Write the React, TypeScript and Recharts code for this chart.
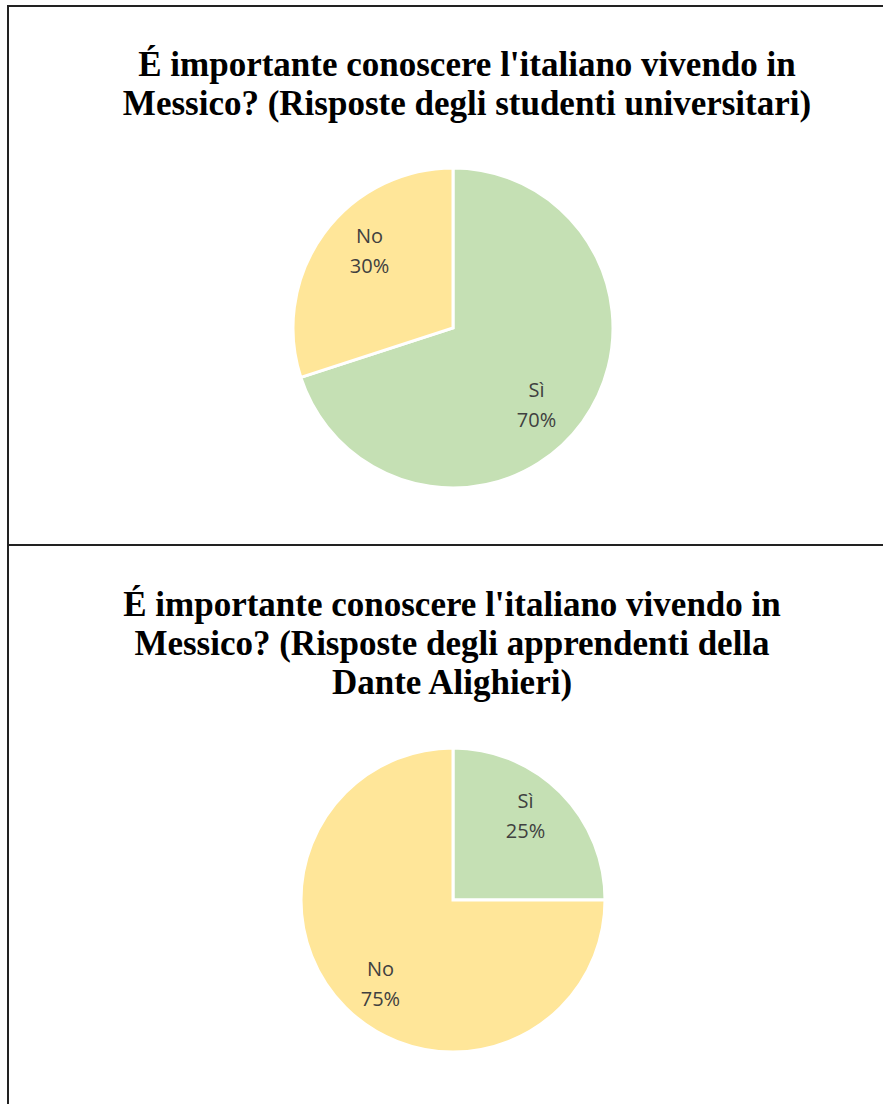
import React from 'react';
import { PieChart, Pie, Cell } from 'recharts';

const categoriesTop = ['Sì', 'No'];
const valuesTop = [70, 30];
const categoriesBottom = ['Sì', 'No'];
const valuesBottom = [25, 75];
const titleTop = ["É importante conoscere l'italiano vivendo in", 'Messico? (Risposte degli studenti universitari)'];
const titleBottom = ["É importante conoscere l'italiano vivendo in", 'Messico? (Risposte degli apprendenti della', 'Dante Alighieri)'];

const colorMap: Record<string, string> = { 'Sì': '#C5E0B4', 'No': '#FFE699' };

const topData = categoriesTop.map((c, i) => ({ name: c, value: valuesTop[i] }));
const bottomData = categoriesBottom.map((c, i) => ({ name: c, value: valuesBottom[i] }));

const RAD = Math.PI / 180;
const makeLabel = (fx: number, fy: number) => (props: any) => {
  const { cx, cy, midAngle, outerRadius, name, percent } = props;
  const x = cx + outerRadius * fx * Math.cos(-midAngle * RAD);
  const y = cy + outerRadius * fy * Math.sin(-midAngle * RAD);
  return (
    <text x={x} y={y} textAnchor="middle" fill="#404040" fontFamily="'Open Sans', sans-serif" fontSize={20}>
      <tspan x={x} dy={-8}>{name}</tspan>
      <tspan x={x} dy={30}>{`${Math.round(percent * 100)}%`}</tspan>
    </text>
  );
};

const titleStyle: React.CSSProperties = {
  position: 'absolute',
  fontFamily: "'Liberation Serif', 'Times New Roman', serif",
  fontWeight: 'bold',
  fontSize: 35,
  lineHeight: '39px',
  color: '#000',
  textAlign: 'center',
  whiteSpace: 'nowrap',
};

const zeroMargin = { top: 0, right: 0, bottom: 0, left: 0 };

export default function App() {
  return (
    <div style={{ position: 'absolute', left: 0, top: 0, width: 883, height: 1104, overflow: 'hidden', background: '#fff' }}>
      <div style={{ position: 'absolute', left: 7, top: 5, width: 950, height: 537, border: '2px solid #222' }} />
      <div style={{ position: 'absolute', left: 7, top: 544, width: 950, height: 620, border: '2px solid #222' }} />
      <div style={{ ...titleStyle, left: 67, width: 800, top: 45 }}>
        {titleTop.map((t, i) => <div key={i}>{t}</div>)}
      </div>
      <div style={{ ...titleStyle, left: 52, width: 800, top: 585 }}>
        {titleBottom.map((t, i) => <div key={i}>{t}</div>)}
      </div>
      <div style={{ position: 'absolute', left: 0, top: 0 }}>
        <PieChart width={883} height={540} margin={zeroMargin}>
          <Pie data={topData} dataKey="value" nameKey="name" cx={453} cy={328} outerRadius={160}
            startAngle={90} endAngle={-270} stroke="#fff" strokeWidth={3}
            isAnimationActive={false} labelLine={false} label={makeLabel(0.645, 0.82)}>
            {topData.map((d) => <Cell key={d.name} fill={colorMap[d.name]} />)}
          </Pie>
        </PieChart>
      </div>
      <div style={{ position: 'absolute', left: 0, top: 546 }}>
        <PieChart width={883} height={558} margin={zeroMargin}>
          <Pie data={bottomData} dataKey="value" nameKey="name" cx={453} cy={354} outerRadius={152}
            startAngle={90} endAngle={-270} stroke="#fff" strokeWidth={3}
            isAnimationActive={false} labelLine={false} label={makeLabel(0.675, 0.78)}>
            {bottomData.map((d) => <Cell key={d.name} fill={colorMap[d.name]} />)}
          </Pie>
        </PieChart>
      </div>
    </div>
  );
}
